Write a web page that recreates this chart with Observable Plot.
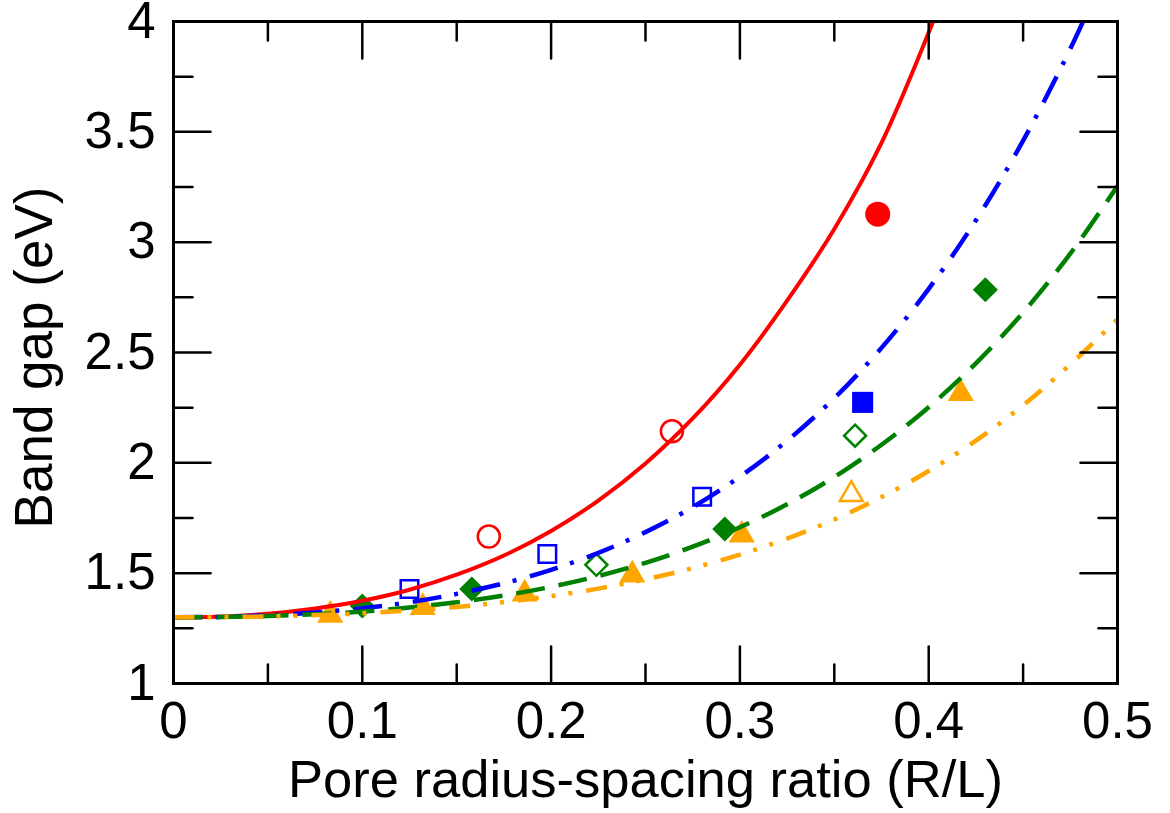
<!DOCTYPE html>
<html><head><meta charset="utf-8">
<script src="https://cdn.jsdelivr.net/npm/d3@7"></script>
<script src="https://cdn.jsdelivr.net/npm/@observablehq/plot@0.6"></script>
<style>body{margin:0;background:#fff;}</style>
</head><body><div id="chart"></div>
<script>
// ---- axis ticks ----
const xTickValues = [0, 0.1, 0.2, 0.3, 0.4, 0.5];
const xTickLabels = ["0", "0.1", "0.2", "0.3", "0.4", "0.5"];
const xMinorTicks = [0.05, 0.15, 0.25, 0.35, 0.45];
const yTickValues = [1, 1.5, 2, 2.5, 3, 3.5, 4];
const yTickLabels = ["1", "1.5", "2", "2.5", "3", "3.5", "4"];
const yMinorTicks = [1.25, 1.75, 2.25, 2.75, 3.25, 3.75];

// ---- fitted curves ----
const redCurveX = [0, 0.025, 0.05, 0.075, 0.1, 0.125, 0.15, 0.175, 0.2, 0.225, 0.25, 0.275, 0.3, 0.325, 0.35, 0.375, 0.4, 0.41];
const redCurveY = [1.30, 1.304, 1.316, 1.34, 1.375, 1.425, 1.493, 1.58, 1.691, 1.829, 1.997, 2.201, 2.445, 2.735, 3.06, 3.45, 3.95, 4.17];
const blueCurveX = [0, 0.025, 0.05, 0.075, 0.1, 0.125, 0.15, 0.175, 0.2, 0.225, 0.25, 0.275, 0.3, 0.325, 0.35, 0.375, 0.4, 0.425, 0.45, 0.475, 0.49];
const blueCurveY = [1.30, 1.302, 1.309, 1.322, 1.341, 1.368, 1.406, 1.454, 1.515, 1.592, 1.686, 1.799, 1.937, 2.10, 2.293, 2.521, 2.788, 3.099, 3.46, 3.876, 4.157];
const greenCurveX = [0, 0.025, 0.05, 0.075, 0.1, 0.125, 0.15, 0.175, 0.2, 0.225, 0.25, 0.275, 0.3, 0.325, 0.35, 0.375, 0.4, 0.425, 0.45, 0.475, 0.5];
const greenCurveY = [1.30, 1.301, 1.306, 1.314, 1.326, 1.344, 1.368, 1.399, 1.438, 1.487, 1.547, 1.62, 1.708, 1.812, 1.936, 2.082, 2.252, 2.451, 2.681, 2.948, 3.254];
const orangeCurveX = [0, 0.025, 0.05, 0.075, 0.1, 0.125, 0.15, 0.175, 0.2, 0.225, 0.25, 0.275, 0.3, 0.325, 0.35, 0.375, 0.4, 0.425, 0.45, 0.475, 0.5];
const orangeCurveY = [1.30, 1.301, 1.304, 1.31, 1.318, 1.331, 1.347, 1.369, 1.396, 1.43, 1.472, 1.523, 1.584, 1.657, 1.743, 1.845, 1.963, 2.101, 2.261, 2.446, 2.65];

// ---- data points ----
const redOpenX = [0.167, 0.264];
const redOpenY = [1.666, 2.143];
const redFilledX = [0.373];
const redFilledY = [3.127];
const blueOpenX = [0.125, 0.198, 0.280];
const blueOpenY = [1.428, 1.587, 1.846];
const blueFilledX = [0.365];
const blueFilledY = [2.274];
const greenOpenX = [0.224, 0.361];
const greenOpenY = [1.538, 2.123];
const greenFilledX = [0.100, 0.158, 0.292, 0.430];
const greenFilledY = [1.351, 1.428, 1.700, 2.784];
const orangeOpenX = [0.359];
const orangeOpenY = [1.857];
const orangeFilledX = [0.083, 0.132, 0.186, 0.243, 0.301, 0.417];
const orangeFilledY = [1.310, 1.345, 1.406, 1.492, 1.673, 2.314];

const xTitle = "Pore radius-spacing ratio (R/L)";
const yTitle = "Band gap (eV)";

const zip = (xs, ys) => xs.map((x, i) => ({x, y: ys[i]}));
const tickShape = {draw(ctx, l) { ctx.moveTo(0, 0); ctx.lineTo(0, -l); }};
const FONT = "Liberation Sans, Arial, Helvetica, sans-serif";

function ticks(values, anchor, rotate, length) {
  const o = {frameAnchor: anchor, rotate, length, anchor: "start", shape: tickShape, stroke: "black", strokeWidth: 2.5};
  if (anchor === "top" || anchor === "bottom") o.x = d => d; else o.y = d => d;
  return Plot.vector(values, o);
}

function pts(xs, ys, symbol, r, color, filled) {
  return Plot.dot(zip(xs, ys), {
    x: "x", y: "y", symbol, r,
    fill: filled ? color : "none",
    stroke: filled ? "none" : color,
    strokeWidth: filled ? 0 : 2.5
  });
}

function curve(xs, ys, color, dash) {
  return Plot.line(zip(xs, ys), {
    x: "x", y: "y", stroke: color, strokeWidth: dash ? 4.5 : 4,
    strokeDasharray: dash, strokeLinecap: "butt", curve: "catmull-rom", clip: true
  });
}

const chart = Plot.plot({
  width: 1170, height: 813,
  marginLeft: 173, marginRight: 53, marginTop: 21, marginBottom: 130,
  style: {fontFamily: FONT, background: "white", color: "black"},
  x: {domain: [0, 0.5]},
  y: {domain: [1, 4]},
  marks: [
    pts(redOpenX, redOpenY, "circle", 11, "#ff0000", false),
    pts(redFilledX, redFilledY, "circle", 12.5, "#ff0000", true),
    pts(blueOpenX, blueOpenY, "square", 9.9, "#0000ff", false),
    pts(blueFilledX, blueFilledY, "square", 11.9, "#0000ff", true),
    pts(greenOpenX, greenOpenY, "diamond2", 9.9, "#008000", false),
    pts(greenFilledX, greenFilledY, "diamond2", 11.3, "#008000", true),
    pts(orangeOpenX, orangeOpenY, "triangle", 8.5, "#ffa500", false),
    pts(orangeFilledX, orangeFilledY, "triangle", 9.7, "#ffa500", true),
    curve(redCurveX, redCurveY, "#ff0000", null),
    curve(blueCurveX, blueCurveY, "#0000ff", "29,13,4,14"),
    curve(greenCurveX, greenCurveY, "#008000", "29,14"),
    curve(orangeCurveX, orangeCurveY, "#ffa500", "21,13,4,13,4,14"),
    ticks(xTickValues, "bottom", 0, 37),
    ticks(xMinorTicks, "bottom", 0, 19),
    ticks(xTickValues, "top", 180, 37),
    ticks(xMinorTicks, "top", 180, 19),
    ticks(yTickValues, "left", 90, 37),
    ticks(yMinorTicks, "left", 90, 19),
    ticks(yTickValues, "right", -90, 37),
    ticks(yMinorTicks, "right", -90, 19),
    Plot.frame({stroke: "black", strokeWidth: 3}),
    Plot.axisX({ticks: xTickValues, tickSize: 0, tickPadding: 18, fontSize: 51,
      tickFormat: (d) => xTickLabels[xTickValues.indexOf(d)], label: null}),
    Plot.axisY({ticks: yTickValues, tickSize: 0, tickPadding: 18, fontSize: 51,
      tickFormat: (d) => yTickLabels[yTickValues.indexOf(d)], label: null}),
    Plot.text([xTitle], {frameAnchor: "bottom", dy: 97, fontSize: 52.5, lineAnchor: "middle", textAnchor: "middle"}),
    Plot.text([yTitle], {frameAnchor: "left", dx: -138, dy: 5, rotate: -90, fontSize: 53, lineAnchor: "middle", textAnchor: "middle"})
  ]
});
document.getElementById("chart").appendChild(chart);
</script>
</body></html>
